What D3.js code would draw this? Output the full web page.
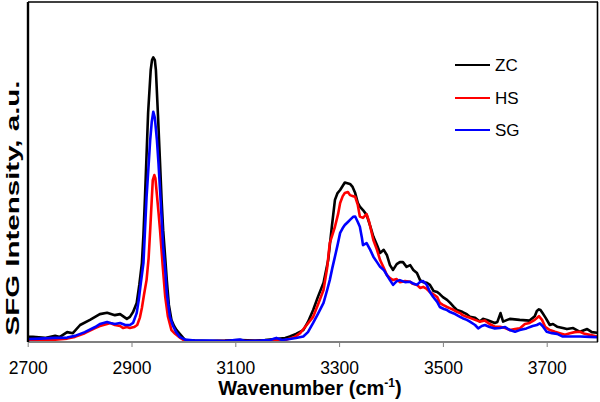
<!DOCTYPE html>
<html><head><meta charset="utf-8">
<script src="https://cdn.jsdelivr.net/npm/d3@7"></script>
<style>body{margin:0;background:#fff}svg{display:block}text{font-family:"Liberation Sans",Arial,Helvetica,sans-serif}</style>
</head><body>
<svg id="c" width="600" height="402"></svg>
<script>
const seriesNames = ["ZC", "HS", "SG"];
const seriesColors = ["#000000", "#ff0000", "#0000ff"];
const xTicks = [2700, 2900, 3100, 3300, 3500, 3700];

const wnZC = [2700,2710,2733,2753,2762,2776,2787,2801,2820,2839,2853,2868,2878,2891,2897,2903,2910,2915,2920,2923,2926,2929,2932,2937,2939.5,2942,2945,2947,2951,2955,2958,2961,2965,2968,2972,2977,2982,2987,2993,3003,3022,3051,3080,3109,3138,3157,3177,3196,3205,3217,3231,3240,3250,3259,3270,3279,3286,3292,3297,3302,3311,3321,3326,3331,3336,3340,3346,3353,3360,3366,3373,3379,3386,3392,3398,3404,3411,3417,3423,3430,3437,3443,3450,3456,3462,3469,3475,3482,3489,3494,3500,3508,3514,3521,3527,3533,3538,3546,3552,3562,3571,3577,3585,3590,3600,3605,3611,3616,3624,3629,3648,3667,3677,3681,3685,3688,3692,3698,3706,3712,3720,3731,3739,3751,3764,3778,3787,3797,3800];
const ZC = [1.5,1.5,1.2,1.8,1.5,2.9,2.6,5.0,6.5,8.2,8.6,7.9,8.2,6.8,7.4,8.8,11.5,16.8,23.2,31.5,42.6,55.0,67.4,80.0,82.9,83.7,82.9,80.0,66.8,52.6,41.8,32.9,24.7,18.2,10.9,6.5,4.7,3.5,2.4,0.6,0.4,0.3,0.4,0.6,0.4,0.6,0.9,1.2,1.6,2.4,3.5,5.9,9.4,13.2,17.4,24.1,33.9,41.8,43.8,44.7,46.9,46.5,45.6,43.8,40.9,39.8,38.8,37.4,34.1,31.0,28.5,26.2,27.1,25.6,22.6,21.2,22.9,23.5,23.5,22.1,22.6,21.2,20.3,18.2,17.6,17.4,16.8,15.0,14.7,14.1,13.2,12.4,11.5,10.3,9.4,9.1,8.8,8.2,7.4,7.1,6.0,6.8,6.5,6.2,5.6,5.9,8.5,6.0,6.5,6.8,6.5,6.3,7.6,9.1,9.6,9.4,8.5,7.1,5.0,5.3,4.5,4.1,3.8,4.1,3.0,3.8,2.9,2.7,2.7];

const wnHS = [2700,2724,2753,2776,2791,2810,2830,2839,2853,2859,2868,2878,2884,2891,2897,2905,2911,2916,2920,2924,2929,2933,2936,2939,2941,2944,2946,2949,2952,2955,2960,2965,2970,2977,2984,2994,3003,3032,3071,3109,3148,3177,3196,3215,3225,3236,3250,3259,3270,3277,3282,3292,3298,3302,3307,3311,3317,3321,3327,3331,3336,3340,3346,3353,3358,3366,3373,3379,3386,3392,3398,3404,3411,3417,3427,3437,3442,3450,3456,3462,3469,3475,3481,3489,3494,3500,3508,3514,3521,3527,3533,3538,3546,3552,3562,3571,3581,3590,3600,3610,3620,3629,3639,3648,3658,3667,3677,3685,3691,3697,3706,3716,3725,3735,3745,3754,3764,3773,3783,3797,3800];
const HS = [0.6,0.6,0.7,1.0,1.5,2.6,4.1,4.7,5.3,5.6,5.0,4.7,4.1,4.4,4.1,4.4,5.0,7.1,10.0,13.8,18.2,24.7,32.9,41.8,47.6,49.1,48.2,43.2,38.2,32.9,22.6,13.3,7.6,3.5,2.4,1.2,0.3,0.1,0.3,0.3,0.3,0.4,0.6,1.5,2.6,4.7,7.4,10.9,15.3,21.8,29.1,33.9,37.6,40.9,42.9,43.8,44.1,43.2,42.9,42.7,40.3,36.9,36.5,37.6,35.3,30.0,27.1,24.1,21.8,19.7,18.8,18.2,18.5,17.6,17.9,17.7,17.1,16.8,15.9,16.2,15.6,14.7,14.1,13.2,11.5,10.9,10.3,9.9,9.4,8.9,8.5,7.9,7.4,7.1,6.5,6.0,6.3,5.3,4.5,4.5,4.1,3.5,3.8,4.0,5.3,5.6,6.5,7.6,6.5,4.5,3.5,3.0,2.6,2.1,2.6,2.9,3.0,2.4,2.1,1.6,1.6];

const wnSG = [2700,2724,2753,2776,2791,2810,2830,2839,2853,2859,2868,2878,2888,2897,2903,2910,2914,2918,2923,2926,2929,2933,2936,2939,2942,2945,2949,2952,2955,2958,2961,2965,2968,2974,2980,2986,2993,3003,3022,3051,3080,3109,3119,3148,3167,3179,3190,3205,3217,3231,3240,3250,3259,3270,3277,3282,3287,3292,3297,3302,3307,3311,3317,3321,3327,3331,3336,3340,3344,3346,3353,3360,3366,3373,3379,3386,3392,3398,3404,3411,3417,3427,3437,3444,3450,3456,3462,3469,3475,3481,3489,3494,3502,3508,3514,3521,3527,3533,3538,3546,3552,3562,3568,3575,3581,3590,3600,3610,3620,3629,3639,3648,3661,3673,3681,3687,3692,3700,3710,3720,3731,3745,3764,3783,3797,3800];
const SG = [0.9,1.0,1.2,1.3,1.8,2.9,4.4,5.3,5.9,5.6,5.3,5.6,5.0,5.0,5.6,8.5,12.4,17.4,23.2,32.9,42.6,52.1,59.4,64.7,67.7,65.9,59.4,52.6,44.7,36.5,28.0,21.2,14.4,7.4,4.7,2.9,1.5,0.7,0.4,0.4,0.3,0.7,0.3,0.4,0.6,1.2,0.6,0.9,1.2,1.6,2.9,5.6,8.2,11.5,15.3,18.2,21.8,25.1,28.5,32.1,33.5,34.4,35.3,35.9,36.8,36.9,35.3,33.9,30.6,28.5,29.1,27.1,25.1,23.5,22.1,21.2,19.7,18.2,16.8,17.9,18.2,17.6,17.7,17.1,16.8,17.7,17.9,16.8,14.7,13.3,11.8,10.3,9.7,9.4,8.8,8.4,7.9,7.4,7.0,6.5,6.0,5.0,4.0,4.7,5.0,4.4,4.0,4.1,4.4,3.5,3.0,3.5,4.0,4.7,5.0,5.5,4.7,3.0,2.6,2.4,1.6,1.6,1.6,1.5,1.4,1.4];

const svg = d3.select("#c");
const L = 28, R = 598, T = 2, B = 342;
const x = d3.scaleLinear().domain([2700, 3800]).range([27.7, 598.6]);
const y = d3.scaleLinear().domain([0, 100]).range([B, T]);

const wns = [wnZC, wnHS, wnSG];
const vals = [ZC, HS, SG];

const line = d3.line().x(d => x(d[0])).y(d => y(d[1])).curve(d3.curveLinear);
const g = svg.append("g");
svg.append("clipPath").attr("id","pc").append("rect").attr("x",L).attr("y",T).attr("width",R-L).attr("height",B-T+2);
[0,1,2].forEach(i => {
  const data = wns[i].map((w, k) => [w, vals[i][k]]);
  g.append("path").datum(data).attr("d", line).attr("fill","none")
    .attr("stroke", seriesColors[i]).attr("stroke-width", 2.6).attr("stroke-linejoin","round")
    .attr("clip-path","url(#pc)");
});

// x axis (grey)
const xa = svg.append("g").attr("transform", `translate(0,${B})`)
  .call(d3.axisBottom(x).tickValues(xTicks).tickSize(5).tickFormat(d3.format("d")));
xa.select(".domain").attr("stroke", "#808080").attr("stroke-width", 2).attr("d", `M${L},0H${R}`);
xa.selectAll(".tick line").attr("stroke", "#808080").attr("stroke-width", 1);
xa.selectAll(".tick text").attr("fill","#000").attr("font-size", 17.5).attr("dy", 0).attr("y", 32)
  .attr("font-family", '"Liberation Sans",Arial,sans-serif');

// frame
svg.append("line").attr("x1",L).attr("x2",L).attr("y1",T).attr("y2",B).attr("stroke","#000").attr("stroke-width",2.4);
svg.append("line").attr("x1",L).attr("x2",R).attr("y1",T).attr("y2",T).attr("stroke","#000").attr("stroke-width",1.6);
svg.append("line").attr("x1",R-0.5).attr("x2",R-0.5).attr("y1",T).attr("y2",B).attr("stroke","#000").attr("stroke-width",1.6);

// axis titles
const xt = svg.append("text").attr("x", 310).attr("y", 395).attr("text-anchor","middle")
  .attr("font-size", 20).attr("font-weight","bold");
xt.append("tspan").text("Wavenumber (cm");
xt.append("tspan").attr("font-size", 12).attr("dy", -8).text("-1");
xt.append("tspan").attr("dy", 8).text(")");

svg.append("text").attr("transform", "translate(19,208) rotate(-90)").attr("text-anchor","middle")
  .attr("font-size", 19).attr("font-weight","bold")
  .attr("textLength", 255).attr("lengthAdjust", "spacingAndGlyphs").text("SFG Intensity, a.u.");

// legend
const leg = svg.append("g");
seriesNames.forEach((n, i) => {
  const ly = [65, 98, 130][i];
  leg.append("line").attr("x1", 455).attr("x2", 490).attr("y1", ly).attr("y2", ly)
    .attr("stroke", seriesColors[i]).attr("stroke-width", 2.2);
  leg.append("text").attr("x", 495).attr("y", ly + 6).attr("font-size", 17).attr("fill","#000").text(n);
});
</script>
</body></html>
